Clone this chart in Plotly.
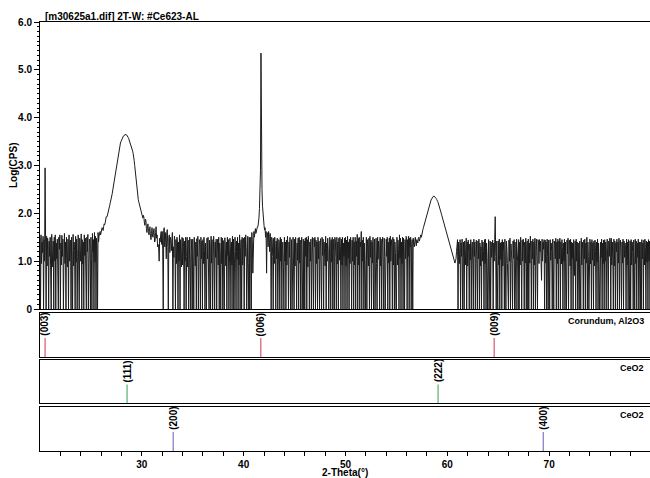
import plotly.graph_objects as go

# ---------------- data ----------------
# Log(CPS) x 100, sampled every 0.05 deg 2-theta starting at 20.00 deg
# (one line = one degree, 20 samples)
log_cps_x100 = [
    148, 0, 155, 95, 140, 118, 152, 0, 145, 100, 295, 105, 0, 152, 90, 148, 132, 0, 142, 110,   # 20
    150, 92, 0, 156, 120, 88, 142, 0, 150, 100, 155, 0, 138, 105, 146, 92, 0, 150, 125, 155,    # 21
    0, 138, 92, 154, 110, 146, 0, 102, 158, 95, 140, 0, 150, 118, 88, 146, 0, 155, 100, 142,    # 22
    144, 0, 150, 108, 0, 156, 90, 140, 122, 0, 152, 98, 146, 0, 110, 155, 92, 0, 148, 130,      # 23
    100, 157, 0, 145, 94, 140, 0, 155, 112, 148, 90, 0, 150, 120, 156, 0, 98, 146, 135, 0,      # 24
    150, 105, 0, 158, 120, 145, 0, 160, 98, 152, 0, 148, 135, 0, 160, 140, 152, 158, 162, 155,  # 25
    160, 165, 170, 166, 164, 172, 178, 176, 180, 186, 193, 192, 194, 200, 207, 210, 212, 217, 222, 226,  # 26
    230, 236, 242, 249, 256, 263, 270, 277, 285, 292, 300, 307, 314, 320, 327, 333, 338, 343, 347, 350,  # 27
    353, 356, 358, 360, 362, 363, 364, 365, 365, 365, 364, 363, 361, 359, 357, 354, 351, 348, 345, 342,  # 28
    338, 334, 330, 325, 320, 310, 300, 288, 275, 263, 252, 243, 235, 229, 224, 219, 215, 210, 206, 203,  # 29
    200, 192, 190, 196, 192, 180, 175, 188, 185, 168, 160, 172, 178, 162, 155, 168, 172, 150, 145, 158,  # 30
    170, 152, 150, 164, 168, 140, 142, 160, 172, 148, 155, 130, 135, 130, 100, 148, 140, 155, 162, 135,  # 31
    162, 125, 0, 165, 170, 130, 160, 142, 105, 160, 166, 128, 0, 150, 155, 118, 150, 145, 122, 158,  # 32
    160, 0, 130, 108, 152, 140, 0, 145, 95, 150, 138, 0, 140, 100, 155, 0, 145, 118, 88, 150,     # 33
    92, 148, 130, 0, 142, 100, 150, 0, 110, 150, 88, 144, 0, 135, 150, 98, 0, 146, 120, 0,        # 34
    146, 102, 0, 150, 125, 90, 140, 0, 147, 110, 152, 0, 98, 145, 135, 0, 150, 105, 142, 0,       # 35
    145, 95, 150, 122, 0, 138, 100, 0, 148, 105, 150, 90, 0, 144, 130, 0, 152, 96, 145, 0,        # 36
    90, 152, 128, 0, 140, 108, 146, 0, 120, 146, 92, 150, 0, 138, 115, 0, 150, 95, 148, 0,        # 37
    143, 100, 0, 149, 125, 90, 140, 0, 150, 112, 145, 0, 96, 148, 130, 0, 140, 92, 152, 0,        # 38
    146, 0, 96, 150, 120, 0, 142, 104, 150, 0, 138, 92, 155, 0, 128, 145, 0, 150, 92, 140,        # 39
    148, 0, 150, 110, 155, 128, 0, 140, 152, 95, 0, 150, 0, 145, 150, 0, 160, 138, 75, 152,       # 40
    162, 150, 158, 168, 158, 165, 168, 172, 172, 180, 190, 210, 240, 290, 535, 300, 250, 215, 195, 185,  # 41
    175, 165, 170, 150, 162, 75, 160, 155, 130, 162, 150, 120, 158, 140, 0, 150, 145, 110, 0, 148,  # 42
    95, 150, 130, 0, 142, 105, 148, 0, 90, 145, 138, 0, 150, 100, 146, 0, 125, 140, 92, 0,        # 43
    150, 100, 140, 0, 144, 92, 152, 125, 0, 140, 108, 150, 0, 98, 145, 0, 132, 150, 90, 0,        # 44
    146, 90, 150, 120, 0, 138, 102, 148, 0, 150, 96, 144, 0, 135, 150, 0, 110, 146, 0, 142,       # 45
    0, 148, 110, 150, 0, 145, 88, 152, 130, 0, 140, 100, 146, 0, 120, 150, 94, 0, 148, 130,       # 46
    150, 0, 144, 95, 140, 0, 150, 105, 142, 0, 128, 147, 90, 0, 150, 112, 146, 0, 140, 100,       # 47
    90, 152, 0, 138, 100, 148, 125, 0, 92, 150, 140, 0, 145, 98, 150, 0, 120, 146, 0, 150,        # 48
    145, 108, 0, 150, 94, 140, 0, 148, 102, 150, 130, 0, 146, 92, 150, 0, 138, 110, 148, 0,       # 49
    150, 90, 144, 0, 152, 106, 140, 0, 146, 95, 150, 128, 0, 144, 100, 150, 0, 140, 92, 150,      # 50
    0, 142, 110, 156, 0, 148, 92, 150, 0, 140, 130, 162, 0, 144, 100, 150, 0, 138, 95, 0,         # 51
    102, 150, 0, 145, 130, 90, 148, 0, 152, 108, 144, 0, 140, 96, 150, 0, 125, 146, 0, 148,       # 52
    148, 95, 0, 150, 104, 142, 128, 0, 150, 90, 146, 0, 135, 150, 98, 0, 148, 110, 0, 145,        # 53
    146, 110, 150, 0, 140, 96, 148, 0, 152, 100, 145, 130, 0, 150, 92, 146, 0, 140, 118, 0,       # 54
    0, 150, 92, 144, 125, 0, 155, 106, 148, 0, 140, 95, 150, 0, 148, 120, 0, 145, 105, 152,       # 55
    150, 0, 145, 110, 152, 0, 148, 130, 150, 0, 135, 145, 0, 148, 138, 130, 145, 150, 140, 132,   # 56
    145, 140, 138, 148, 150, 142, 146, 152, 155, 150, 160, 158, 166, 170, 174, 178, 182, 187, 192, 197,  # 57
    202, 206, 210, 214, 217, 220, 223, 226, 228, 230, 232, 234, 235, 236, 236, 235, 235, 233, 231, 229,  # 58
    228, 225, 222, 219, 216, 212, 209, 205, 200, 196, 192, 188, 184, 180, 176, 172, 168, 164, 160, 157,  # 59
    155, 152, 148, 145, 142, 136, 130, 127, 124, 118, 114, 110, 108, 102, 98, 96, 100, 105, 120, 135,  # 60
    145, 0, 140, 120, 95, 145, 0, 138, 110, 146, 0, 100, 140, 0, 142, 125, 92, 148, 0, 140,       # 61
    90, 144, 118, 0, 136, 102, 145, 0, 130, 140, 92, 0, 146, 110, 140, 0, 125, 144, 92, 0,        # 62
    142, 105, 146, 0, 138, 90, 130, 0, 144, 100, 140, 120, 0, 145, 95, 146, 0, 138, 108, 0,       # 63
    140, 145, 0, 95, 142, 0, 140, 108, 128, 144, 0, 138, 100, 145, 193, 110, 0, 142, 96, 0,       # 64
    142, 92, 146, 0, 138, 104, 140, 0, 145, 90, 140, 118, 0, 146, 100, 0, 142, 125, 95, 0,        # 65
    0, 144, 100, 148, 0, 136, 120, 95, 0, 142, 106, 145, 0, 140, 92, 0, 146, 130, 100, 0,         # 66
    145, 0, 140, 92, 150, 110, 0, 144, 100, 146, 128, 0, 140, 96, 148, 0, 135, 142, 0, 146,       # 67
    0, 138, 96, 152, 120, 0, 142, 105, 146, 0, 140, 92, 148, 0, 130, 146, 100, 0, 145, 140,       # 68
    95, 145, 120, 142, 100, 60, 146, 100, 140, 125, 145, 0, 144, 96, 140, 0, 146, 110, 0, 144,    # 69
    92, 0, 145, 102, 138, 120, 0, 146, 90, 0, 142, 135, 105, 148, 0, 140, 95, 146, 0, 142,        # 70
    105, 148, 0, 140, 94, 145, 128, 0, 138, 100, 146, 0, 140, 92, 0, 144, 115, 148, 0, 140,       # 71
    144, 90, 146, 0, 140, 106, 138, 0, 145, 95, 70, 142, 0, 146, 100, 140, 0, 138, 92, 0,         # 72
    142, 100, 0, 148, 92, 140, 125, 0, 144, 105, 146, 0, 138, 96, 150, 0, 140, 110, 0, 145,       # 73
    146, 94, 140, 0, 145, 102, 138, 0, 142, 90, 144, 120, 0, 140, 98, 146, 0, 138, 105, 0,        # 74
    0, 140, 108, 146, 0, 138, 95, 144, 0, 145, 100, 140, 0, 128, 146, 92, 0, 142, 110, 148,       # 75
    142, 0, 148, 92, 140, 104, 0, 146, 90, 142, 0, 138, 120, 146, 0, 140, 96, 148, 0, 140,        # 76
    144, 102, 0, 140, 96, 146, 0, 142, 108, 138, 125, 0, 146, 92, 140, 0, 145, 100, 0, 142,       # 77
    0, 145, 92, 140, 118, 0, 144, 100, 0, 146, 95, 142, 0, 138, 108, 146, 0, 140, 92, 0,          # 78
    140, 0, 145, 105, 138, 0, 144, 92, 146, 128, 0, 142, 98, 140, 0, 145, 100, 142, 0, 142,       # 79
]
assert len(log_cps_x100) == 1200, len(log_cps_x100)
log_cps = [v / 100.0 for v in log_cps_x100]
two_theta = [round(20.0 + 0.05 * i, 2) for i in range(len(log_cps))]

# reference patterns (stick positions, hkl labels)
corundum_pos = [20.5, 41.68, 64.6]
corundum_hkl = ["(003)", "(006)", "(009)"]
ceo2_a_pos = [28.55, 59.09]
ceo2_a_hkl = ["(111)", "(222)"]
ceo2_b_pos = [33.08, 69.42]
ceo2_b_hkl = ["(200)", "(400)"]

y_tick_vals = [0, 1, 2, 3, 4, 5, 6]
y_tick_text = ["0", "1.0", "2.0", "3.0", "4.0", "5.0", "6.0"]
x_tick_vals = list(range(22, 80, 2))
x_tick_text = [str(v) if v % 10 == 0 else "" for v in x_tick_vals]

title_text = "[m30625a1.dif] 2T-W: #Ce623-AL"
# ---------------------------------------------------------------

FONT = "Liberation Sans, Arial, sans-serif"
XR = [20.0, 79.9]

fig = go.Figure()
fig.add_trace(go.Scatter(x=two_theta, y=log_cps, mode="lines",
                         line=dict(color="#1c1c1c", width=1),
                         xaxis="x", yaxis="y", hoverinfo="skip"))

panels = [
    ("x2", "y2", corundum_pos, corundum_hkl, "#d9647c", "Corundum, Al2O3"),
    ("x3", "y3", ceo2_a_pos, ceo2_a_hkl, "#5fb87c", "CeO2"),
    ("x4", "y4", ceo2_b_pos, ceo2_b_hkl, "#8783c6", "CeO2"),
]
annotations = []
for xa, ya, pos, hkl, col, name in panels:
    for p, h in zip(pos, hkl):
        fig.add_trace(go.Scatter(x=[p, p], y=[0, 0.43], mode="lines",
                                 line=dict(color=col, width=1.3),
                                 xaxis=xa, yaxis=ya, hoverinfo="skip"))
        annotations.append(dict(x=p, y=0.43, xref=xa, yref=ya, text="<b>%s</b>" % h,
                                textangle=-90, showarrow=False, xanchor="center",
                                yanchor="bottom", font=dict(family=FONT, size=10, color="black")))
    annotations.append(dict(x=0.993, y=0.97, xref="paper", yref=ya + " domain",
                            text="<b>%s</b>" % name, showarrow=False, xanchor="right",
                            yanchor="top", font=dict(family=FONT, size=9, color="black")))

annotations.append(dict(x=0, y=1, xref="paper", yref="paper", xshift=3, yshift=-2,
                        text="<b>%s</b>" % title_text, showarrow=False,
                        xanchor="left", yanchor="bottom",
                        font=dict(family=FONT, size=10, color="black")))
annotations.append(dict(x=-0.043, y=0.666, xref="paper", yref="paper",
                        text="<b>Log(CPS)</b>", textangle=-90, showarrow=False,
                        xanchor="center", yanchor="middle",
                        font=dict(family=FONT, size=10, color="black")))
annotations.append(dict(x=0.5, y=-0.051, xref="paper", yref="paper",
                        text="<b>2-Theta(°)</b>", showarrow=False,
                        xanchor="center", yanchor="middle",
                        font=dict(family=FONT, size=10, color="black")))

common_x = dict(range=XR, showgrid=False, zeroline=False, showline=True, mirror=True,
                linecolor="black", linewidth=1, domain=[0, 1])
blank_y = dict(range=[0, 1], showgrid=False, zeroline=False, showline=True,
               linecolor="black", linewidth=1, showticklabels=False, ticks="")

fig.update_layout(
    width=650, height=478,
    margin=dict(l=40, r=0, t=22, b=27),
    paper_bgcolor="white", plot_bgcolor="white",
    showlegend=False,
    annotations=annotations,
    xaxis=dict(**common_x, anchor="y", showticklabels=False, ticks=""),
    yaxis=dict(domain=[0.331, 1.0], range=[0, 6], anchor="x", showgrid=False,
               zeroline=False, showline=True, linecolor="black", linewidth=1,
               tickvals=y_tick_vals, ticktext=y_tick_text, ticks="outside",
               ticklen=5, tickcolor="black",
               minor=dict(dtick=0.1, ticks="outside", ticklen=2, tickcolor="black", showgrid=False),
               tickfont=dict(family=FONT, size=10, color="black", weight="bold")),
    xaxis2=dict(**common_x, anchor="y2", showticklabels=False, ticks=""),
    yaxis2=dict(**blank_y, domain=[0.219, 0.3217], anchor="x2"),
    xaxis3=dict(**common_x, anchor="y3", showticklabels=False, ticks=""),
    yaxis3=dict(**blank_y, domain=[0.112, 0.212], anchor="x3"),
    xaxis4=dict(**common_x, anchor="y4", tickvals=x_tick_vals, ticktext=x_tick_text,
                ticks="outside", ticklen=4, tickcolor="black",
                tickfont=dict(family=FONT, size=10, color="black", weight="bold")),
    yaxis4=dict(**blank_y, domain=[0.0, 0.1026], anchor="x4"),
)

fig.write_html("out.html", config={"displayModeBar": False},
               post_script="document.body.style.margin='0';document.body.style.overflow='hidden';")
